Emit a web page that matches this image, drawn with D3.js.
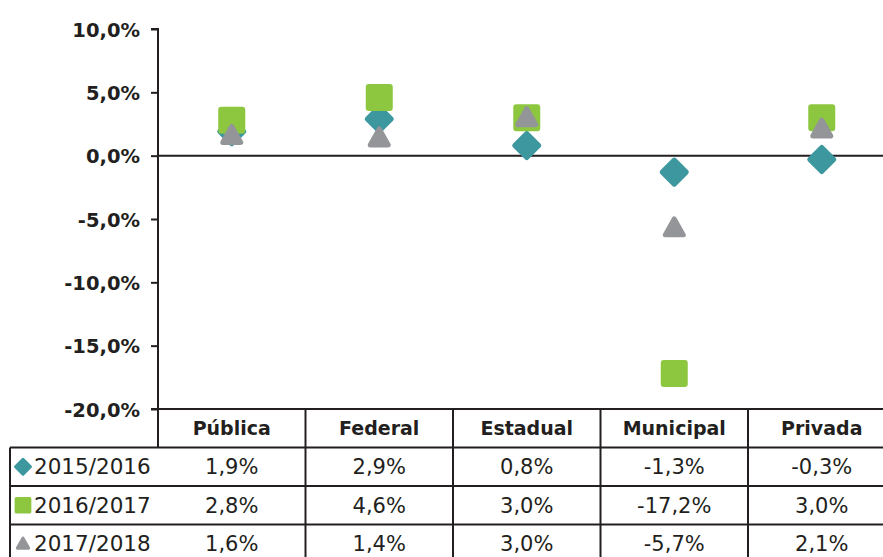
<!DOCTYPE html>
<html>
<head>
<meta charset="utf-8">
<script src="https://cdn.jsdelivr.net/npm/d3@7/dist/d3.min.js"></script>
<style>
  html, body { margin: 0; padding: 0; background: #fff; }
  svg { display: block; font-family: "DejaVu Sans", Lato, sans-serif; }
</style>
</head>
<body>
<svg id="chart" width="883" height="557"></svg>
<script>
const categories = ["Pública", "Federal", "Estadual", "Municipal", "Privada"];
const seriesNames = ["2015/2016", "2016/2017", "2017/2018"];
const values2015_2016 = [1.9, 2.9, 0.8, -1.3, -0.3];
const values2016_2017 = [2.8, 4.6, 3.0, -17.2, 3.0];
const values2017_2018 = [1.6, 1.4, 3.0, -5.7, 2.1];
const yTicks = [10, 5, 0, -5, -10, -15, -20];

const series = [
  { name: seriesNames[0], values: values2015_2016, color: "#3c979e", shape: "diamond" },
  { name: seriesNames[1], values: values2016_2017, color: "#8dc63f", shape: "square" },
  { name: seriesNames[2], values: values2017_2018, color: "#939598", shape: "triangle" }
];

const svg = d3.select("#chart");
const ink = "#231f20";
const plotLeft = 158, band = 147.5;
const x = d3.scaleBand().domain(categories).range([plotLeft, plotLeft + band * categories.length]).padding(0);
const y = d3.scaleLinear().domain([-20, 10]).range([409, 29]);
const fmt = v => d3.format(".1f")(v).replace(".", ",").replace("−", "-") + "%";

// Y axis
const yAxis = d3.axisLeft(y).tickValues(yTicks).tickSize(7).tickPadding(11).tickFormat(fmt);
const ga = svg.append("g").attr("transform", `translate(${plotLeft},0)`).call(yAxis);
ga.select(".domain").attr("stroke", ink).attr("stroke-width", 2).attr("d", `M-7,${y(10)}H0V${y(-20) + 38}`);
ga.selectAll(".tick line").attr("stroke", ink).attr("stroke-width", 2);
ga.selectAll(".tick text").attr("fill", ink).attr("font-size", 19.5).attr("font-weight", "bold")
  .attr("font-family", "'DejaVu Sans', sans-serif").attr("dy", "0.36em");

// Zero line
svg.append("line").attr("x1", plotLeft).attr("x2", 883).attr("y1", y(0)).attr("y2", y(0))
  .attr("stroke", ink).attr("stroke-width", 2);

// Marker shapes
function drawMarker(g, shape, color, cx, cy) {
  if (shape === "diamond") {
    g.append("rect").attr("x", -8.5).attr("y", -8.5).attr("width", 17).attr("height", 17)
      .attr("transform", `translate(${cx},${cy}) rotate(45)`)
      .attr("fill", color).attr("stroke", color).attr("stroke-width", 5).attr("stroke-linejoin", "round");
  } else if (shape === "square") {
    g.append("rect").attr("x", cx - 10.5).attr("y", cy - 10.5).attr("width", 21).attr("height", 21)
      .attr("fill", color).attr("stroke", color).attr("stroke-width", 6).attr("stroke-linejoin", "round");
  } else {
    const h = 16, w = 18;
    g.append("path").attr("d", `M${cx},${cy - h / 2 - 1}L${cx + w / 2},${cy + h / 2 - 1}L${cx - w / 2},${cy + h / 2 - 1}Z`)
      .attr("fill", color).attr("stroke", color).attr("stroke-width", 5).attr("stroke-linejoin", "round");
  }
}

const gm = svg.append("g");
series.forEach(s => {
  s.values.forEach((v, i) => {
    drawMarker(gm, s.shape, s.color, x(categories[i]) + x.bandwidth() / 2, y(v));
  });
});

// Table
const tableTop = y(-20), rowH = 38.5, tableLeft = 10;
const gt = svg.append("g");
const right = x(categories[categories.length - 1]) + band;
gt.append("line").attr("x1", plotLeft - 7).attr("x2", right).attr("y1", tableTop).attr("y2", tableTop);
for (let r = 1; r <= 3; r++) {
  gt.append("line").attr("x1", tableLeft).attr("x2", right)
    .attr("y1", tableTop + r * rowH).attr("y2", tableTop + r * rowH);
}
gt.append("line").attr("x1", tableLeft).attr("x2", tableLeft).attr("y1", tableTop + rowH).attr("y2", 600);
categories.forEach(c => {
  gt.append("line").attr("x1", x(c) + band).attr("x2", x(c) + band).attr("y1", tableTop).attr("y2", 600);
});
gt.selectAll("line").attr("stroke", ink).attr("stroke-width", 2);

// header text
categories.forEach(c => {
  gt.append("text").attr("x", x(c) + band / 2).attr("y", tableTop + rowH / 2).attr("dy", "0.36em")
    .attr("text-anchor", "middle").attr("font-size", 19).attr("font-weight", "bold").attr("fill", ink).text(c);
});
// rows
series.forEach((s, r) => {
  const cy = tableTop + (r + 1) * rowH + rowH / 2;
  const mk = gt.append("g").attr("transform", `translate(${23},${cy}) scale(0.62) translate(${-23},${-cy})`);
  drawMarker(mk, s.shape, s.color, 23, cy);
  gt.append("text").attr("x", 34).attr("y", cy).attr("dy", "0.36em").attr("font-size", 21.5)
    .attr("fill", ink).text(s.name);
  s.values.forEach((v, i) => {
    gt.append("text").attr("x", x(categories[i]) + band / 2).attr("y", cy).attr("dy", "0.36em")
      .attr("text-anchor", "middle").attr("font-size", 21).attr("fill", ink).text(fmt(v));
  });
});
</script>
</body>
</html>
